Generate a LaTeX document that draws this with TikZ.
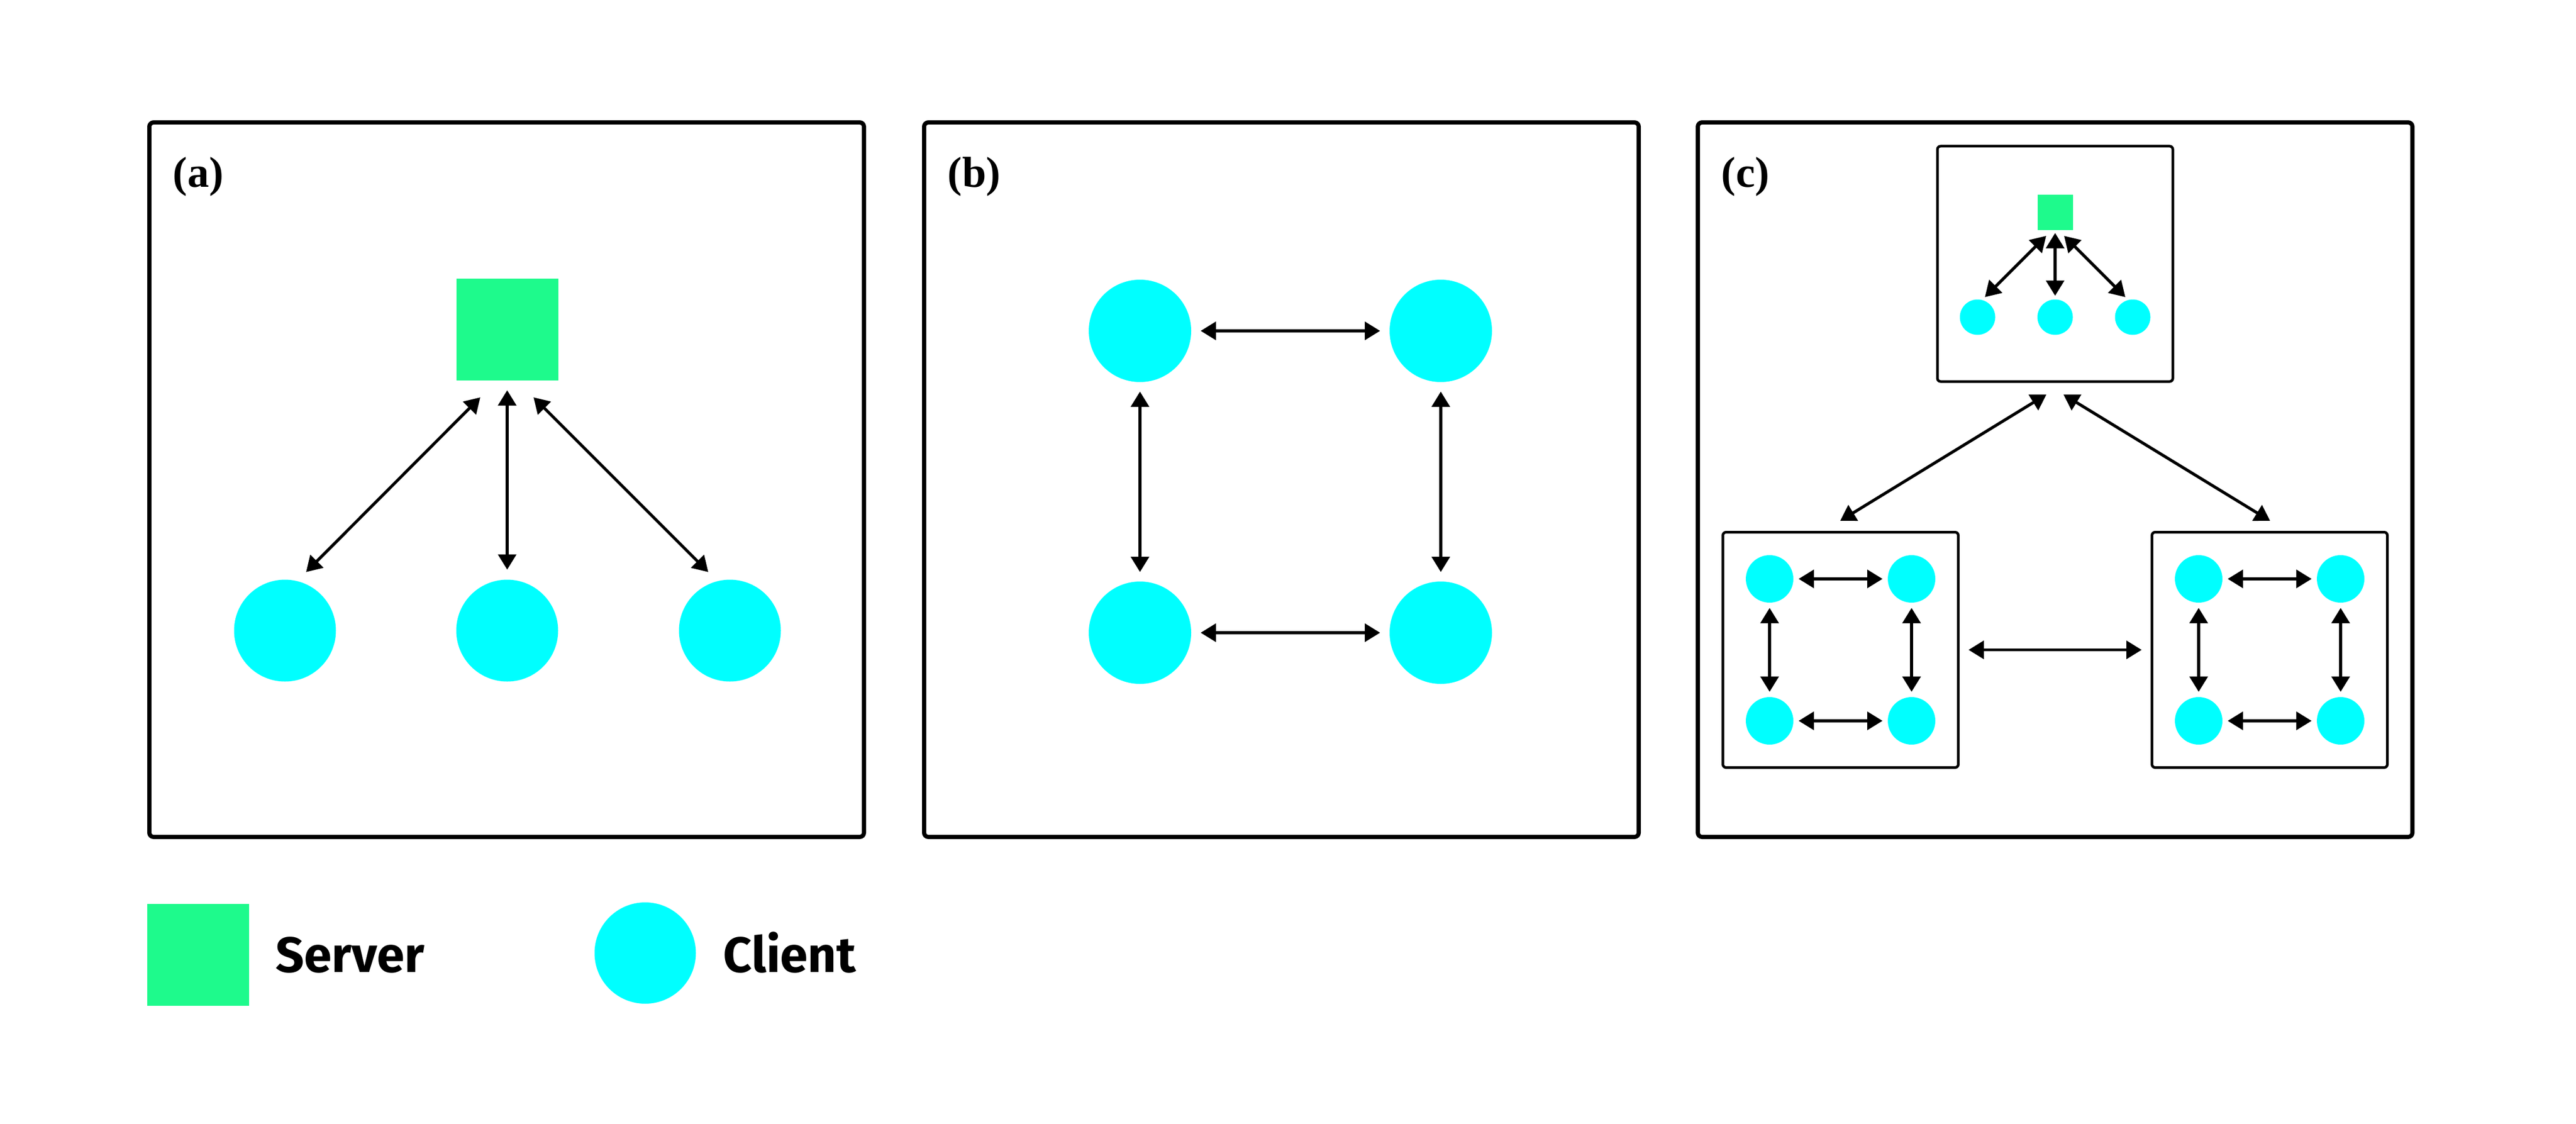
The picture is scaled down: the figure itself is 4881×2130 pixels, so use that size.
\documentclass[tikz,border=0pt]{standalone}
\usepackage{fontspec}
\setmainfont{Liberation Serif}
\newfontfamily\legendfont{Fira Sans}
\usetikzlibrary{arrows.meta,calc}
\definecolor{srvgreen}{RGB}{30,250,140}
\definecolor{clicyan}{RGB}{0,255,255}
\begin{document}
\begin{tikzpicture}[x=0.25pt,y=-0.25pt,
  panel/.style={draw, line width=2pt, rounded corners=2pt, minimum size=338.5pt, inner sep=0pt, outer sep=0pt},
  subpanel/.style={draw, line width=1.25pt, rounded corners=1.5pt, minimum size=111.5pt, inner sep=0pt, outer sep=0pt},
  server/.style={rectangle, fill=srvgreen, minimum size=#1, inner sep=0pt, outer sep=0pt},
  client/.style={circle, fill=clicyan, minimum size=#1, inner sep=0pt, outer sep=0pt},
  link/.style={<->, >={Triangle[length=7.25pt,width=8.5pt]}, line width=1.4pt},
  plabel/.style={font=\fontsize{20.5pt}{24pt}\selectfont\bfseries, anchor=base west, inner sep=0pt},
  ltext/.style={font=\legendfont\fontsize{23.6pt}{28pt}\selectfont\bfseries, anchor=base west, inner sep=0pt}
]
\useasboundingbox (0,0) rectangle (4881,2130);

% ---------- panels ----------
\node[panel] (pa) at (960,909) {};
\node[panel] (pb) at (2428,909) {};
\node[panel] (pc) at (3894,909) {};
\node[plabel] (la) at (327,354) {(a)};
\node[plabel] (lb) at (1795,354) {(b)};
\node[plabel] (lc) at (3261,354) {(c)};

% ---------- panel (a) ----------
\node[server=48.25pt] (sa) at (961,624) {};
\node[client=48.25pt] (ca1) at (540,1195) {};
\node[client=48.25pt] (ca2) at (961,1195) {};
\node[client=48.25pt] (ca3) at (1383,1195) {};
\coordinate (a1s) at (910,753);
\coordinate (a1e) at (580,1084);
\coordinate (a3s) at (1011,753);
\coordinate (a3e) at (1342,1084);
\draw[link] (a1s) -- (a1e);
\draw[link, shorten <=4.75pt, shorten >=4.75pt] (sa) -- (ca2);
\draw[link] (a3s) -- (a3e);

% ---------- panel (b) ----------
\node[client=48.5pt] (b1) at (2160,627) {};
\node[client=48.5pt] (b2) at (2730,627) {};
\node[client=48.5pt] (b3) at (2160,1199) {};
\node[client=48.5pt] (b4) at (2730,1199) {};
\draw[link, shorten <=4.5pt, shorten >=4.5pt] (b1) -- (b2);
\draw[link, shorten <=4.5pt, shorten >=4.5pt] (b3) -- (b4);
\draw[link, shorten <=4.5pt, shorten >=4.5pt] (b1) -- (b3);
\draw[link, shorten <=4.5pt, shorten >=4.5pt] (b2) -- (b4);

% ---------- panel (c) ----------
\node[subpanel] (ct) at (3894,500) {};
\node[subpanel] (cl) at (3487.5,1231.5) {};
\node[subpanel] (cr) at (4300.5,1231.5) {};

% top sub-panel
\node[server=16.75pt] (cs) at (3894,402) {};
\node[client=16.75pt] (cc1) at (3747,601) {};
\node[client=16.75pt] (cc2) at (3894,601) {};
\node[client=16.75pt] (cc3) at (4041,601) {};
\coordinate (c1s) at (3877,447);
\coordinate (c1e) at (3761,563);
\coordinate (c3s) at (3911,447);
\coordinate (c3e) at (4027,563);
\draw[link] (c1s) -- (c1e);
\draw[link, shorten <=1.5pt, shorten >=1.75pt] (cs) -- (cc2);
\draw[link] (c3s) -- (c3e);

% links between sub-panels
\coordinate (tl1) at (3877.5,747.6);
\coordinate (tl2) at (3486.7,987);
\coordinate (tr1) at (3909.8,747.6);
\coordinate (tr2) at (4301.4,987);
\draw[link] (tl1) -- (tl2);
\draw[link] (tr1) -- (tr2);
\draw[link, shorten <=4.875pt, shorten >=4.875pt] (cl) -- (cr);

% left sub-panel
\node[client=22.5pt] (l1) at (3353,1097) {};
\node[client=22.5pt] (l2) at (3622,1097) {};
\node[client=22.5pt] (l3) at (3353,1366) {};
\node[client=22.5pt] (l4) at (3622,1366) {};
\draw[link, shorten <=2.5pt, shorten >=2.5pt] (l1) -- (l2);
\draw[link, shorten <=2.5pt, shorten >=2.5pt] (l3) -- (l4);
\draw[link, shorten <=2.5pt, shorten >=2.5pt] (l1) -- (l3);
\draw[link, shorten <=2.5pt, shorten >=2.5pt] (l2) -- (l4);

% right sub-panel
\node[client=22.5pt] (r1) at (4166,1097) {};
\node[client=22.5pt] (r2) at (4435,1097) {};
\node[client=22.5pt] (r3) at (4166,1366) {};
\node[client=22.5pt] (r4) at (4435,1366) {};
\draw[link, shorten <=2.5pt, shorten >=2.5pt] (r1) -- (r2);
\draw[link, shorten <=2.5pt, shorten >=2.5pt] (r3) -- (r4);
\draw[link, shorten <=2.5pt, shorten >=2.5pt] (r1) -- (r3);
\draw[link, shorten <=2.5pt, shorten >=2.5pt] (r2) -- (r4);

% ---------- legend ----------
\node[server=48.25pt] (lsq) at (375.5,1809) {};
\node[ltext] (lst) at (522,1842) {Server};
\node[client=48pt] (lci) at (1222.5,1806) {};
\node[ltext] (lct) at (1370,1842) {Client};
\end{tikzpicture}
\end{document}
